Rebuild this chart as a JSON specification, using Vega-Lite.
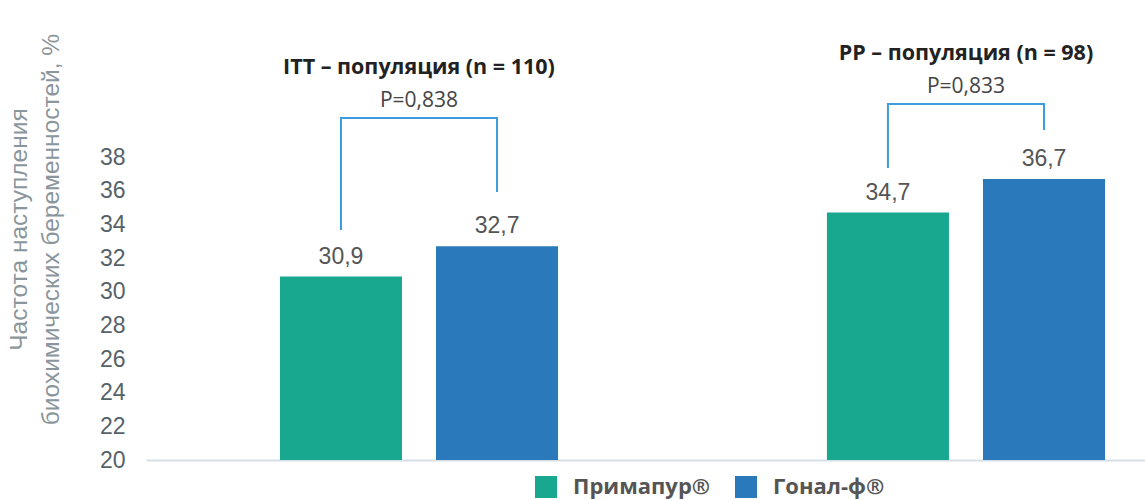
{
  "$schema": "https://vega.github.io/schema/vega-lite/v6.json",
  "description": "Частота наступления биохимических беременностей: Примапур vs Гонал-ф, ITT и PP популяции.",
  "width": 999,
  "height": 460,
  "autosize": "none",
  "padding": {"left": 146, "top": 0, "right": 0, "bottom": 40},
  "background": "white",
  "config": {
    "view": {"stroke": null},
    "locale": {"number": {"decimal": ",", "thousands": " ", "grouping": [3], "currency": ["", ""]}},
    "legend": {
      "orient": "none",
      "legendX": 389,
      "legendY": 476,
      "direction": "horizontal",
      "symbolType": "square",
      "symbolSize": 484,
      "symbolStrokeWidth": 0,
      "labelFont": "Open Sans",
      "labelFontWeight": "bold",
      "labelFontSize": 22,
      "labelColor": "#555555",
      "labelOffset": 16,
      "columnPadding": 24,
      "title": null
    }
  },
  "datasets": {
    "bars": [
      {"group": "ITT", "drug": "Примапур®", "value": 30.9},
      {"group": "ITT", "drug": "Гонал-ф®", "value": 32.7},
      {"group": "PP", "drug": "Примапур®", "value": 34.7},
      {"group": "PP", "drug": "Гонал-ф®", "value": 36.7}
    ],
    "brackets": [
      {"group": "ITT", "drug": "Примапур®", "step": 1, "y": 33.66},
      {"group": "ITT", "drug": "Примапур®", "step": 2, "y": 40.32},
      {"group": "ITT", "drug": "Гонал-ф®", "step": 3, "y": 40.32},
      {"group": "ITT", "drug": "Гонал-ф®", "step": 4, "y": 35.92},
      {"group": "PP", "drug": "Примапур®", "step": 1, "y": 37.35},
      {"group": "PP", "drug": "Примапур®", "step": 2, "y": 41.15},
      {"group": "PP", "drug": "Гонал-ф®", "step": 3, "y": 41.15},
      {"group": "PP", "drug": "Гонал-ф®", "step": 4, "y": 39.6}
    ],
    "notes": [
      {"group": "ITT", "top": 40.32, "title": "ITT – популяция (n = 110)", "p": "P=0,838"},
      {"group": "PP", "top": 41.15, "title": "PP – популяция (n = 98)", "p": "P=0,833"}
    ]
  },
  "encoding": {
    "x": {
      "field": "group",
      "type": "nominal",
      "scale": {"domain": ["ITT", "PP"], "paddingInner": 0.4516, "paddingOuter": 0.139, "align": 0.809},
      "axis": {"title": null, "labels": false, "ticks": false, "domainColor": "#d5dfe7", "domainWidth": 2}
    }
  },
  "layer": [
    {
      "data": {"name": "bars"},
      "mark": {"type": "bar"},
      "encoding": {
        "xOffset": {
          "field": "drug",
          "type": "nominal",
          "scale": {"domain": ["Примапур®", "Гонал-ф®"], "paddingInner": 0.218, "paddingOuter": 0.07}
        },
        "y": {
          "field": "value",
          "type": "quantitative",
          "scale": {"domain": [20, 47.33], "nice": false, "zero": false},
          "axis": {
            "values": [20, 22, 24, 26, 28, 30, 32, 34, 36, 38],
            "title": ["Частота наступления", "биохимических беременностей, %"],
            "grid": false,
            "domain": false,
            "ticks": false,
            "labelPadding": 21,
            "labelFont": "Liberation Sans",
            "labelFontSize": 23,
            "labelColor": "#56626a",
            "titleFont": "Liberation Sans",
            "titleFontSize": 24.5,
            "titleFontWeight": "normal",
            "titleColor": "#8b969c",
            "titleAngle": -90,
            "titleX": -127,
            "titleY": 229,
            "titleAlign": "center",
            "titleBaseline": "middle",
            "titleLineHeight": 32
          }
        },
        "y2": {"datum": 20},
        "color": {
          "field": "drug",
          "type": "nominal",
          "scale": {"domain": ["Примапур®", "Гонал-ф®"], "range": ["#17a88f", "#2a79bb"]}
        }
      }
    },
    {
      "data": {"name": "bars"},
      "mark": {"type": "text", "baseline": "alphabetic", "dy": -13, "font": "Liberation Sans", "fontSize": 23, "color": "#555555"},
      "encoding": {
        "xOffset": {"field": "drug", "type": "nominal"},
        "y": {"field": "value", "type": "quantitative"},
        "text": {"field": "value", "type": "quantitative", "format": ".1f"}
      }
    },
    {
      "data": {"name": "brackets"},
      "mark": {"type": "line", "color": "#3d9be0", "strokeWidth": 2},
      "encoding": {
        "xOffset": {"field": "drug", "type": "nominal"},
        "y": {"field": "y", "type": "quantitative"},
        "detail": {"field": "group"},
        "order": {"field": "step", "type": "quantitative"}
      }
    },
    {
      "data": {"name": "notes"},
      "mark": {"type": "text", "baseline": "middle", "dy": -17, "font": "Open Sans", "fontSize": 21, "color": "#444444"},
      "encoding": {
        "y": {"field": "top", "type": "quantitative"},
        "text": {"field": "p"}
      }
    },
    {
      "data": {"name": "notes"},
      "mark": {"type": "text", "baseline": "middle", "dy": -50, "font": "Open Sans", "fontWeight": "bold", "fontSize": 21.5, "color": "#222222"},
      "encoding": {
        "y": {"field": "top", "type": "quantitative"},
        "text": {"field": "title"}
      }
    }
  ]
}
